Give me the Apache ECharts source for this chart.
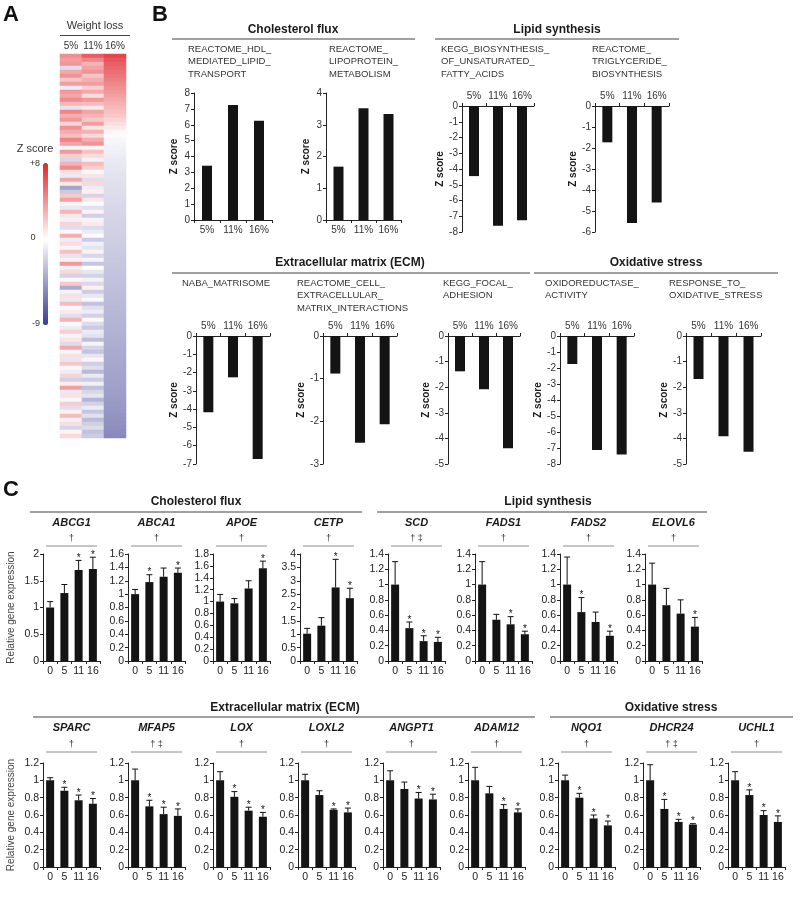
<!DOCTYPE html>
<html><head><meta charset="utf-8">
<script src="https://cdn.jsdelivr.net/npm/echarts@6/dist/echarts.min.js"></script>
<style>html,body{margin:0;padding:0;background:#fff}#c{width:800px;height:898px}</style>
</head><body><div id="c"></div>
<script>
// ---------------- DATA ----------------
// Panel A heatmap (Z scores, one value per gene-set row)
const heatCols = ['5%', '11%', '16%'];
const heat5 = [
 4.2, 3.6, 3.9, -1.5, 3.2, 4.0, 2.2, 3.6,
 -0.8, 3.8, 3.3, 4.3, 2.7, -1.2, 4.5, 3.0,
 3.8, 1.6, 4.1, 3.1, 2.4, 4.6, 3.4, -0.5,
 3.7, 1.8, -1.8, 2.9, 4.3, 1.2, -0.9, 3.3,
 0.8, -4.2, -2.5, 2.0, 3.5, 0.5, -1.0, 2.7,
 0.9, -0.6, 1.6, -1.5, 0.3, 3.0, -0.8, 1.3,
 -0.4, 2.3, -1.2, 0.6, 3.8, -0.7, 1.5, -2.0,
 0.3, 2.0, -3.8, -0.6, 1.2, -1.0, 2.5, -0.3,
 0.8, -1.4, 2.8, 0.2, -0.9, 1.8, -0.5, 1.0,
 -1.6, 3.2, -0.4, 1.2, -1.1, 2.1, 0.3, -0.8,
 1.6, -2.2, 0.7, 3.6, -1.0, 1.1, -0.4, 1.9,
 -1.4, 0.6, 2.5, -0.7, 1.2, -1.9, 0.4, 1.4
];
const heat11 = [
 6.0, 4.5, 2.8, 3.4, 4.0, 2.2, 3.0, 3.6,
 1.8, 3.2, 1.3, 3.8, 2.5, 0.9, 3.4, 2.7,
 2.0, 3.6, 1.0, 2.9, 1.5, 3.1, 4.0, 0.4,
 2.3, 1.3, -0.6, 2.5, 1.8, -0.3, 1.0, -1.5,
 1.5, -0.8, 0.6, -1.9, 0.9, -0.2, -1.4, 0.5,
 -2.2, -0.5, 0.8, -1.6, -0.9, 0.2, -2.4, -0.7,
 -1.2, 0.5, -1.8, -0.4, -2.6, 0.1, -1.1, -2.0,
 -0.6, -1.7, 0.6, -2.3, -1.0, -0.3, -2.8, -1.4,
 -0.8, -2.1, 0.3, -1.6, -2.5, -0.9, -1.3, -3.0,
 -0.5, -1.9, -2.7, -1.1, 0.4, -2.2, -1.5, -3.2,
 -1.0, -2.4, -0.7, -2.9, -1.8, -1.2, -3.4, -2.0,
 -0.9, -2.6, -1.4, -3.1, -2.2, -1.6, -2.8, -2.4
];
const heat16 = [
 6.8, 6.3, 5.9, 5.6, 5.3, 5.0, 4.7, 4.4,
 4.1, 3.8, 3.5, 3.2, 2.9, 2.6, 2.3, 2.0,
 1.6, 1.2, 0.8, 0.3, -0.2, -0.35, -0.5, -0.65,
 -0.75, -0.85, -0.95, -1.05, -1.1, -1.2, -1.3, -1.35,
 -1.45, -1.5, -1.55, -1.6, -1.7, -1.75, -1.8, -1.85,
 -1.9, -1.95, -2.05, -2.1, -2.15, -2.2, -2.25, -2.3,
 -2.4, -2.45, -2.5, -2.55, -2.6, -2.65, -2.7, -2.75,
 -2.8, -2.9, -2.95, -3.0, -3.05, -3.1, -3.15, -3.25,
 -3.3, -3.35, -3.4, -3.45, -3.5, -3.55, -3.6, -3.7,
 -3.75, -3.8, -3.85, -3.9, -3.95, -4.0, -4.1, -4.15,
 -4.2, -4.25, -4.3, -4.35, -4.45, -4.5, -4.6, -4.7,
 -4.75, -4.85, -4.95, -5.0, -5.1, -5.2, -5.3, -5.45
];
const zMin = -9, zMax = 8;
const zTicks = ['+8', '0', '-9'];

// Panel B (Z scores by weight loss)
const bCats = ['5%', '11%', '16%'];
const hdlTransport = [3.42, 7.24, 6.25];
const lipoproteinMetab = [1.68, 3.52, 3.34];
const unsatFattyAcids = [-4.45, -7.6, -7.25];
const triglycerideBiosyn = [-1.73, -5.57, -4.6];
const nabaMatrisome = [-4.17, -2.26, -6.73];
const cellEcmInteractions = [-0.88, -2.5, -2.07];
const focalAdhesion = [-1.38, -2.08, -4.38];
const oxidoreductase = [-1.75, -7.12, -7.4];
const oxidativeStress = [-1.68, -3.92, -4.52];

// Panel C (relative gene expression, mean, error, significance *)
const cCats = ['0', '5', '11', '16'];
const ABCG1 = [1.00, 1.27, 1.70, 1.72], ABCG1_err = [0.11, 0.16, 0.18, 0.22], ABCG1_sig = [0, 0, 1, 1];
const ABCA1 = [1.00, 1.18, 1.26, 1.32], ABCA1_err = [0.07, 0.11, 0.13, 0.07], ABCA1_sig = [0, 1, 0, 1];
const APOE = [1.00, 0.97, 1.22, 1.56], APOE_err = [0.12, 0.08, 0.13, 0.12], APOE_sig = [0, 0, 0, 1];
const CETP = [1.02, 1.32, 2.75, 2.35], CETP_err = [0.20, 0.30, 1.05, 0.37], CETP_sig = [0, 0, 1, 1];
const SCD = [1.00, 0.43, 0.26, 0.25], SCD_err = [0.30, 0.08, 0.07, 0.06], SCD_sig = [0, 1, 1, 1];
const FADS1 = [1.00, 0.54, 0.48, 0.35], FADS1_err = [0.30, 0.07, 0.10, 0.04], FADS1_sig = [0, 0, 1, 1];
const FADS2 = [1.00, 0.64, 0.51, 0.33], FADS2_err = [0.36, 0.19, 0.13, 0.06], FADS2_sig = [0, 1, 0, 1];
const ELOVL6 = [1.00, 0.73, 0.62, 0.45], ELOVL6_err = [0.28, 0.22, 0.18, 0.12], ELOVL6_sig = [0, 0, 0, 1];
const SPARC = [1.00, 0.88, 0.77, 0.73], SPARC_err = [0.03, 0.04, 0.06, 0.06], SPARC_sig = [0, 1, 1, 1];
const MFAP5 = [1.00, 0.70, 0.61, 0.59], MFAP5_err = [0.13, 0.07, 0.08, 0.08], MFAP5_sig = [0, 1, 1, 1];
const LOX = [1.00, 0.81, 0.65, 0.58], LOX_err = [0.10, 0.06, 0.04, 0.05], LOX_sig = [0, 1, 1, 1];
const LOXL2 = [1.00, 0.83, 0.66, 0.63], LOXL2_err = [0.07, 0.05, 0.01, 0.05], LOXL2_sig = [0, 0, 1, 1];
const ANGPT1 = [1.00, 0.90, 0.79, 0.78], ANGPT1_err = [0.11, 0.08, 0.07, 0.06], ANGPT1_sig = [0, 0, 1, 1];
const ADAM12 = [1.00, 0.85, 0.67, 0.63], ADAM12_err = [0.15, 0.08, 0.05, 0.04], ADAM12_sig = [0, 0, 1, 1];
const NQO1 = [1.00, 0.80, 0.56, 0.48], NQO1_err = [0.06, 0.05, 0.04, 0.05], NQO1_sig = [0, 1, 1, 1];
const DHCR24 = [1.00, 0.67, 0.52, 0.49], DHCR24_err = [0.18, 0.11, 0.03, 0.01], DHCR24_sig = [0, 1, 1, 1];
const UCHL1 = [1.00, 0.83, 0.60, 0.52], UCHL1_err = [0.10, 0.06, 0.05, 0.07], UCHL1_sig = [0, 1, 1, 1];

// ---------------- BUILD ----------------
const FONT = '"Liberation Sans", Arial, Helvetica, sans-serif';
const INK = '#1a1a1a';
function font(size, weight, style) { return (style || 'normal') + ' ' + (weight || 'normal') + ' ' + size + 'px ' + FONT; }
function txt(x, y, text, o) {
  o = o || {};
  return { type: 'text', x: x, y: y, rotation: o.rot || 0, silent: true, z: 10,
    style: { text: text, font: font(o.size || 10, o.weight, o.style), fill: o.fill || INK,
      textAlign: o.align || 'left', align: o.align || 'left', textVerticalAlign: 'middle', verticalAlign: 'middle' } };
}
function ln(x1, y1, x2, y2, color, w) {
  return { type: 'line', silent: true, z: 10, shape: { x1: x1, y1: y1, x2: x2, y2: y2 }, style: { stroke: color || '#808080', lineWidth: w || 1 } };
}
function mix(c1, c2, t) {
  const a = [1, 3, 5].map(i => parseInt(c1.substr(i, 2), 16));
  const b = [1, 3, 5].map(i => parseInt(c2.substr(i, 2), 16));
  return 'rgb(' + a.map((v, i) => Math.round(v + (b[i] - v) * t)).join(',') + ')';
}
const RED = '#e1262c', BLUE = '#3c3b8f', WHITE = '#ffffff';
const colorStops = [];
for (let v = zMin; v <= zMax; v++) colorStops.push(v <= 0 ? mix(WHITE, BLUE, -v / -zMin) : mix(WHITE, RED, v / zMax));

const grids = [], xAxes = [], yAxes = [], series = [], graphics = [];
function addGrid(box) { grids.push(Object.assign({ show: false, containLabel: false, outerBoundsMode: 'none' }, box)); return grids.length - 1; }

// ---- Panel A ----
{
  const gi = addGrid({ left: 60, top: 54, width: 66, height: 384 });
  const rows = heat16.map((_, i) => String(i));
  xAxes.push({ type: 'category', gridIndex: gi, data: heatCols, position: 'top', axisLine: { show: false }, axisTick: { show: false },
    axisLabel: { fontSize: 10, color: '#333', margin: 3, fontFamily: FONT, interval: 0 }, splitLine: { show: false } });
  yAxes.push({ type: 'category', gridIndex: gi, data: rows, inverse: true, show: false });
  const hd = [];
  [heat5, heat11, heat16].forEach((col, c) => col.forEach((v, r) => hd.push([c, r, v])));
  series.push({ type: 'heatmap', xAxisIndex: xAxes.length - 1, yAxisIndex: yAxes.length - 1, data: hd, silent: true, progressive: 0 });
  graphics.push(txt(3, 15, 'A', { size: 22, weight: 'bold', fill: '#111' }));
  graphics.push(txt(95, 26, 'Weight loss', { size: 11, align: 'center', fill: '#333' }));
  graphics.push(ln(60, 35.5, 130, 35.5, '#444', 1));
  graphics.push(txt(35, 149, 'Z score', { size: 11, align: 'center', fill: '#333' }));
  graphics.push(txt(40, 164, zTicks[0], { size: 9, align: 'right', fill: '#333' }));
  graphics.push(txt(33, 238, zTicks[1], { size: 9, align: 'center', fill: '#333' }));
  graphics.push(txt(40, 324, zTicks[2], { size: 9, align: 'right', fill: '#333' }));
}

// ---- Panel B ----
const bSpecs = [
  { lines: ['REACTOME_HDL_', 'MEDIATED_LIPID_', 'TRANSPORT'], tx: 188, ty: 49, data: hdlTransport, min: 0, max: 8, box: { left: 194, top: 93, width: 78, height: 127 } },
  { lines: ['REACTOME_', 'LIPOPROTEIN_', 'METABOLISM'], tx: 329, ty: 49, data: lipoproteinMetab, min: 0, max: 4, box: { left: 326, top: 93, width: 75, height: 127 } },
  { lines: ['KEGG_BIOSYNTHESIS_', 'OF_UNSATURATED_', 'FATTY_ACIDS'], tx: 441, ty: 49, data: unsatFattyAcids, min: -8, max: 0, box: { left: 462, top: 106, width: 72, height: 126 } },
  { lines: ['REACTOME_', 'TRIGLYCERIDE_', 'BIOSYNTHESIS'], tx: 592, ty: 49, data: triglycerideBiosyn, min: -6, max: 0, box: { left: 595, top: 106, width: 74, height: 126 } },
  { lines: ['NABA_MATRISOME'], tx: 182, ty: 283, data: nabaMatrisome, min: -7, max: 0, box: { left: 196, top: 336, width: 74, height: 128 } },
  { lines: ['REACTOME_CELL_', 'EXTRACELLULAR_', 'MATRIX_INTERACTIONS'], tx: 297, ty: 283, data: cellEcmInteractions, min: -3, max: 0, box: { left: 323, top: 336, width: 74, height: 128 } },
  { lines: ['KEGG_FOCAL_', 'ADHESION'], tx: 443, ty: 283, data: focalAdhesion, min: -5, max: 0, box: { left: 448, top: 336, width: 72, height: 128 } },
  { lines: ['OXIDOREDUCTASE_', 'ACTIVITY'], tx: 545, ty: 283, data: oxidoreductase, min: -8, max: 0, box: { left: 560, top: 336, width: 74, height: 128 } },
  { lines: ['RESPONSE_TO_', 'OXIDATIVE_STRESS'], tx: 669, ty: 283, data: oxidativeStress, min: -5, max: 0, box: { left: 686, top: 336, width: 75, height: 128 } }
];
bSpecs.forEach(s => {
  const gi = addGrid(s.box);
  const neg = s.max <= 0;
  xAxes.push({ type: 'category', gridIndex: gi, data: bCats, position: neg ? 'top' : 'bottom',
    axisLine: { show: true, onZero: false, lineStyle: { color: '#222', width: 1 } },
    axisTick: { show: true, length: 3, lineStyle: { color: '#222' } },
    axisLabel: { fontSize: 10, color: '#333', margin: 5, fontFamily: FONT, interval: 0 }, splitLine: { show: false } });
  yAxes.push({ type: 'value', gridIndex: gi, min: s.min, max: s.max, interval: 1,
    axisLine: { show: true, lineStyle: { color: '#222', width: 1 } }, axisTick: { show: true, length: 3, lineStyle: { color: '#222' } },
    axisLabel: { fontSize: 10, color: '#333', margin: 4, fontFamily: FONT }, splitLine: { show: false },
    name: 'Z score', nameLocation: 'middle', nameGap: 15, nameTextStyle: { fontSize: 10, fontWeight: 'bold', color: INK, fontFamily: FONT } });
  series.push({ type: 'bar', xAxisIndex: xAxes.length - 1, yAxisIndex: yAxes.length - 1, data: s.data, barWidth: 10, itemStyle: { color: '#141414' }, silent: true });
  s.lines.forEach((t, k) => graphics.push(txt(s.tx, s.ty + k * 12.6, t, { size: 9.5, fill: '#333' })));
});
graphics.push(txt(152, 15, 'B', { size: 22, weight: 'bold', fill: '#111' }));
[[293, 30, 172, 415, 39, 'Cholesterol flux'], [557, 30, 435, 679, 39, 'Lipid synthesis'],
 [350, 263, 172, 530, 273, 'Extracellular matrix (ECM)'], [656, 263, 534, 778, 273, 'Oxidative stress']].forEach(h => {
  graphics.push(txt(h[0], h[1], h[5], { size: 12, weight: 'bold', align: 'center' }));
  graphics.push(ln(h[2], h[4], h[3], h[4], '#808080', 1.5));
});

// ---- Panel C ----
function errRender(params, api) {
  const i = api.value(0), m = api.value(1), e = api.value(2), s = api.value(3);
  const b = api.coord([i, m]), t = api.coord([i, m + e]);
  const ch = [
    { type: 'line', shape: { x1: b[0], y1: b[1], x2: t[0], y2: t[1] }, style: { stroke: '#111', lineWidth: 1 } },
    { type: 'line', shape: { x1: t[0] - 3, y1: t[1], x2: t[0] + 3, y2: t[1] }, style: { stroke: '#111', lineWidth: 1 } }
  ];
  if (s) ch.push({ type: 'text', x: t[0], y: t[1] + 3, style: { text: '*', font: font(10), fill: '#111', textAlign: 'center', align: 'center', textVerticalAlign: 'bottom', verticalAlign: 'bottom' } });
  return { type: 'group', children: ch };
}
const C_W = 57;
const cRows = [
  { top: 554, height: 107, nameY: 523, markY: 539, markLineY: 546, genes: [
    { name: 'ABCG1', m: ABCG1, e: ABCG1_err, s: ABCG1_sig, max: 2, step: 0.5, left: 43, mark: '†' },
    { name: 'ABCA1', m: ABCA1, e: ABCA1_err, s: ABCA1_sig, max: 1.6, step: 0.2, left: 128, mark: '†' },
    { name: 'APOE', m: APOE, e: APOE_err, s: APOE_sig, max: 1.8, step: 0.2, left: 213, mark: '†' },
    { name: 'CETP', m: CETP, e: CETP_err, s: CETP_sig, max: 4, step: 0.5, left: 300, mark: '†' },
    { name: 'SCD', m: SCD, e: SCD_err, s: SCD_sig, max: 1.4, step: 0.2, left: 388, mark: '† ‡' },
    { name: 'FADS1', m: FADS1, e: FADS1_err, s: FADS1_sig, max: 1.4, step: 0.2, left: 475, mark: '†' },
    { name: 'FADS2', m: FADS2, e: FADS2_err, s: FADS2_sig, max: 1.4, step: 0.2, left: 560, mark: '†' },
    { name: 'ELOVL6', m: ELOVL6, e: ELOVL6_err, s: ELOVL6_sig, max: 1.4, step: 0.2, left: 645, mark: '†' } ] },
  { top: 763, height: 104, nameY: 728, markY: 745, markLineY: 752, genes: [
    { name: 'SPARC', m: SPARC, e: SPARC_err, s: SPARC_sig, max: 1.2, step: 0.2, left: 43, mark: '†' },
    { name: 'MFAP5', m: MFAP5, e: MFAP5_err, s: MFAP5_sig, max: 1.2, step: 0.2, left: 128, mark: '† ‡' },
    { name: 'LOX', m: LOX, e: LOX_err, s: LOX_sig, max: 1.2, step: 0.2, left: 213, mark: '†' },
    { name: 'LOXL2', m: LOXL2, e: LOXL2_err, s: LOXL2_sig, max: 1.2, step: 0.2, left: 298, mark: '†' },
    { name: 'ANGPT1', m: ANGPT1, e: ANGPT1_err, s: ANGPT1_sig, max: 1.2, step: 0.2, left: 383, mark: '†' },
    { name: 'ADAM12', m: ADAM12, e: ADAM12_err, s: ADAM12_sig, max: 1.2, step: 0.2, left: 468, mark: '†' },
    { name: 'NQO1', m: NQO1, e: NQO1_err, s: NQO1_sig, max: 1.2, step: 0.2, left: 558, mark: '†' },
    { name: 'DHCR24', m: DHCR24, e: DHCR24_err, s: DHCR24_sig, max: 1.2, step: 0.2, left: 643, mark: '† ‡' },
    { name: 'UCHL1', m: UCHL1, e: UCHL1_err, s: UCHL1_sig, max: 1.2, step: 0.2, left: 728, mark: '†' } ] }
];
cRows.forEach(row => {
  row.genes.forEach((g, k) => {
    const gi = addGrid({ left: g.left, top: row.top, width: C_W, height: row.height });
    xAxes.push({ type: 'category', gridIndex: gi, data: cCats,
      axisLine: { show: true, onZero: false, lineStyle: { color: '#222', width: 1 } },
      axisTick: { show: true, length: 3, lineStyle: { color: '#222' } },
      axisLabel: { fontSize: 10.5, color: '#222', margin: 5, fontFamily: FONT, interval: 0 }, splitLine: { show: false } });
    const ya = { type: 'value', gridIndex: gi, min: 0, max: g.max, interval: g.step,
      axisLine: { show: true, lineStyle: { color: '#222', width: 1 } }, axisTick: { show: true, length: 3, lineStyle: { color: '#222' } },
      axisLabel: { fontSize: 10.5, color: '#222', margin: 4, fontFamily: FONT }, splitLine: { show: false } };
    if (k === 0) Object.assign(ya, { name: 'Relative gene expression', nameLocation: 'middle', nameGap: 27,
      nameTextStyle: { fontSize: 10, color: '#444', fontFamily: FONT } });
    yAxes.push(ya);
    const xi = xAxes.length - 1, yi = yAxes.length - 1;
    series.push({ type: 'bar', xAxisIndex: xi, yAxisIndex: yi, data: g.m, barWidth: 8, itemStyle: { color: '#141414' }, silent: true });
    series.push({ type: 'custom', xAxisIndex: xi, yAxisIndex: yi, coordinateSystem: 'cartesian2d', clip: false, z: 3, silent: true,
      encode: { x: 0, y: 1 }, renderItem: errRender, data: g.m.map((v, i) => [i, v, g.e[i], g.s[i]]) });
    const cx = g.left + C_W / 2;
    graphics.push(txt(cx, row.nameY, g.name, { size: 11, weight: 'bold', style: 'italic', align: 'center' }));
    graphics.push(txt(cx, row.markY, g.mark, { size: 9, align: 'center', fill: '#333' }));
    graphics.push(ln(g.left + 3, row.markLineY, g.left + 54, row.markLineY, '#8c8c8c', 1));
  });
});
graphics.push(txt(3, 490, 'C', { size: 22, weight: 'bold', fill: '#111' }));
[[196, 502, 30, 362, 512, 'Cholesterol flux'], [548, 502, 377, 707, 512, 'Lipid synthesis'],
 [285, 708, 33, 535, 717, 'Extracellular matrix (ECM)'], [671, 708, 550, 793, 717, 'Oxidative stress']].forEach(h => {
  graphics.push(txt(h[0], h[1], h[5], { size: 12, weight: 'bold', align: 'center' }));
  graphics.push(ln(h[2], h[4], h[3], h[4], '#808080', 1.5));
});

const chart = echarts.init(document.getElementById('c'), null, { renderer: 'canvas' });
chart.setOption({
  backgroundColor: '#ffffff',
  animation: false,
  textStyle: { fontFamily: FONT },
  grid: grids, xAxis: xAxes, yAxis: yAxes, series: series,
  visualMap: [{ type: 'continuous', min: zMin, max: zMax, seriesIndex: 0, calculable: false, hoverLink: false,
    inRange: { color: colorStops }, left: 43, top: 163, itemWidth: 5, itemHeight: 162, padding: 0, text: null, orient: 'vertical' }],
  graphic: { elements: graphics }
});
</script></body></html>
